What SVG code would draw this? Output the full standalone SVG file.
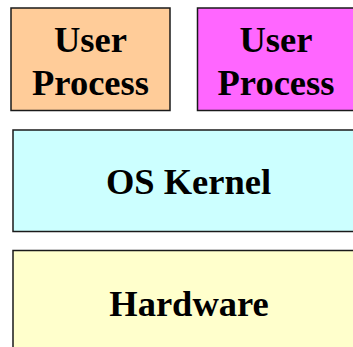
<svg xmlns="http://www.w3.org/2000/svg" width="353" height="347" viewBox="0 0 353 347">
<style>
.box{stroke:#1a1a1a;stroke-width:1.5}
.t{font-family:"Liberation Serif","Times New Roman",serif;font-weight:bold;font-size:36.5px;fill:#000;text-anchor:middle}
</style>
<rect width="353" height="347" fill="#fff"/>
<g id="user1">
<rect class="box" x="11" y="8" width="159" height="102.5" fill="#FFCC99"/>
<text class="t" x="90.5" y="52">User</text>
<text class="t" x="90.5" y="95">Process</text>
</g>
<g id="user2">
<rect class="box" x="197.5" y="8" width="157" height="102.5" fill="#FF66FF"/>
<text class="t" x="276" y="52">User</text>
<text class="t" x="276" y="95">Process</text>
</g>
<g id="kernel">
<rect class="box" x="13" y="130" width="351" height="101.5" fill="#CCFFFF"/>
<text class="t" x="188.5" y="194">OS Kernel</text>
</g>
<g id="hardware">
<rect class="box" x="13" y="250.5" width="351" height="110" fill="#FFFFCC"/>
<text class="t" x="189" y="316">Hardware</text>
</g>
<g id="connectors"></g>
</svg>
